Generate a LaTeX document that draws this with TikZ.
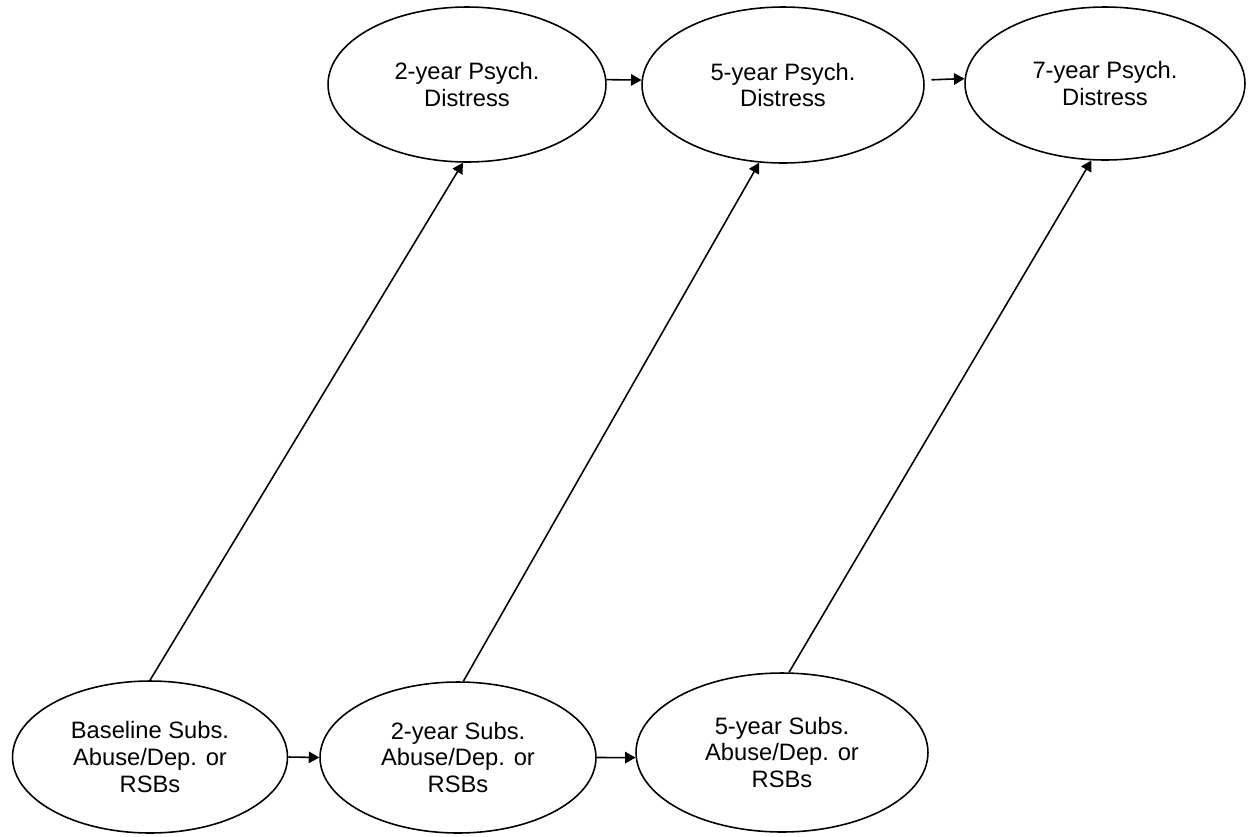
\documentclass[tikz,border=0pt]{standalone}
\usepackage{fontspec}
\setmainfont{Liberation Sans}
\usepackage{tikz}
\usetikzlibrary{arrows.meta,shapes.geometric}
\tikzset{
	oval/.style={draw, ellipse, line width=0.9pt, inner sep=0pt, align=center, font=\fontsize{13.5}{15.3}\selectfont},
	link/.style={line width=0.9pt, -{Triangle[length=0.21cm, width=0.23cm]}}
}

\begin{document}
\begin{tikzpicture}[x=0.02cm, y=-0.02cm]
			%%%%% START %%%%%
			
			\useasboundingbox (0, 0) rectangle (1248, 836);
			
			\node[oval, minimum width=5.56cm, minimum height=3.1cm] (pd2) at (467, 84.5) {2-year Psych.\\Distress};
			\node[oval, minimum width=5.64cm, minimum height=3.12cm] (pd5) at (783, 85) {5-year Psych.\\Distress};
			\node[oval, minimum width=5.6cm, minimum height=3.06cm] (pd7) at (1105, 83.5) {7-year Psych.\\Distress};
			
			\node[oval, minimum width=5.5cm, minimum height=3.04cm] (sa0) at (150, 757) {Baseline Subs.\\Abuse/Dep. or\\RSBs};
			\node[oval, minimum width=5.52cm, minimum height=3.02cm] (sa2) at (458, 757.5) {2-year Subs.\\Abuse/Dep. or\\RSBs};
			\node[oval, minimum width=5.84cm, minimum height=3.18cm] (sa5) at (782, 752.5) {5-year Subs.\\Abuse/Dep. or\\RSBs};
			
			\draw[link] (pd2.2) -- (pd5.178);
			\draw[link, shorten <=4] (pd5.2) -- (pd7.178);
			
			\draw[link] (sa0.east) -- (sa2.west);
			\draw[link] (sa2.east) -- (sa5.182);
			
			\draw[link] (sa0.north) -- (pd2.267);
			\draw[link] (sa2.86) -- (pd5.253);
			\draw[link] (sa5.85) -- (pd7.260);
			
			%%%%% END %%%%%
		\end{tikzpicture}
\end{document}
